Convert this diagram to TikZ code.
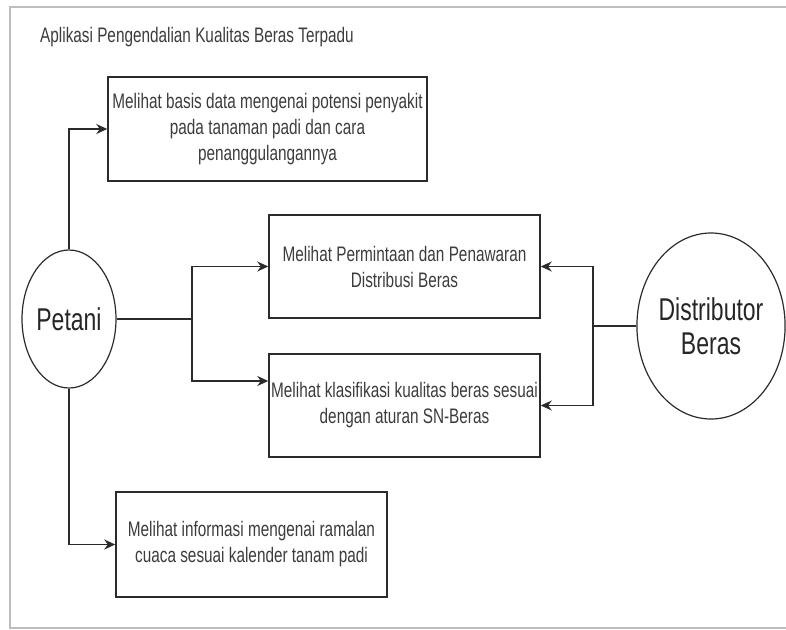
\documentclass[tikz,border=0pt]{standalone}
\usepackage{xcolor}
\usepackage{fontspec}
\setmainfont[FakeStretch=0.73]{Liberation Sans}
\usepackage{tikz}
\usetikzlibrary{arrows.meta,positioning,shapes.geometric,calc}
\definecolor{garis}{HTML}{2B2B2B}
\definecolor{teks}{HTML}{3C3C3C}
\definecolor{bingkai}{HTML}{BDBDBD}

\begin{document}
\begin{tikzpicture}[x=1pt, y=-1pt,
  kotak/.style={draw=garis, line width=1.5pt, minimum width=271pt, minimum height=103pt, inner sep=0pt, align=center, text=teks, font=\fontsize{21}{26}\selectfont},
  aktor/.style={ellipse, draw=garis, line width=1.2pt, inner sep=0pt, align=center, text=black!85, font=\fontsize{31.5}{34}\selectfont},
  panah/.style={-{Stealth[length=11pt,width=10pt]}, draw=garis, line width=1.5pt},
  hubung/.style={draw=garis, line width=1.5pt}]
  \useasboundingbox (0,0) rectangle (786,629);
  \draw[bingkai, line width=1.2pt] (790,7) -- (10,7) -- (10,628) -- (790,628);

  \node[anchor=west, inner sep=0pt, text=teks, font=\fontsize{21}{26}\selectfont] (judul) at (40,37) {Aplikasi Pengendalian Kualitas Beras Terpadu};

  \node[aktor, minimum width=94pt, minimum height=138pt] (petani) at (69,319) {Petani};
  \node[aktor, minimum width=132pt, minimum height=186pt] (distributor) at (711,326) {Distributor\\Beras};

  \node[kotak, minimum width=319pt, minimum height=104pt] (basisdata) at (267.5,129) {Melihat basis data mengenai potensi penyakit\\pada tanaman padi dan cara\\penanggulangannya};
  \node[kotak] (permintaan) at (404.5,266.5) {Melihat Permintaan dan Penawaran\\Distribusi Beras};
  \node[kotak] (klasifikasi) at (404.5,405.5) {Melihat klasifikasi kualitas beras sesuai\\dengan aturan SN-Beras};
  \node[kotak, minimum height=105pt] (cuaca) at (251.5,544.5) {Melihat informasi mengenai ramalan\\cuaca sesuai kalender tanam padi};

  \coordinate (cabangkiri) at (192,319);
  \coordinate (cabangkanan) at (593,326);

  \draw[panah] (petani.north) |- (basisdata.west);
  \draw[panah] (petani.south) |- (cuaca.west);
  \draw[hubung] (petani.east) -- (cabangkiri);
  \draw[panah] (cabangkiri) |- (permintaan.west);
  \draw[panah] (cabangkiri) |- ([yshift=24.5pt]klasifikasi.west);
  \draw[hubung] (distributor.west) -- (cabangkanan);
  \draw[panah] (cabangkanan) |- (permintaan.east);
  \draw[panah] (cabangkanan) |- (klasifikasi.east);
\end{tikzpicture}
\end{document}
